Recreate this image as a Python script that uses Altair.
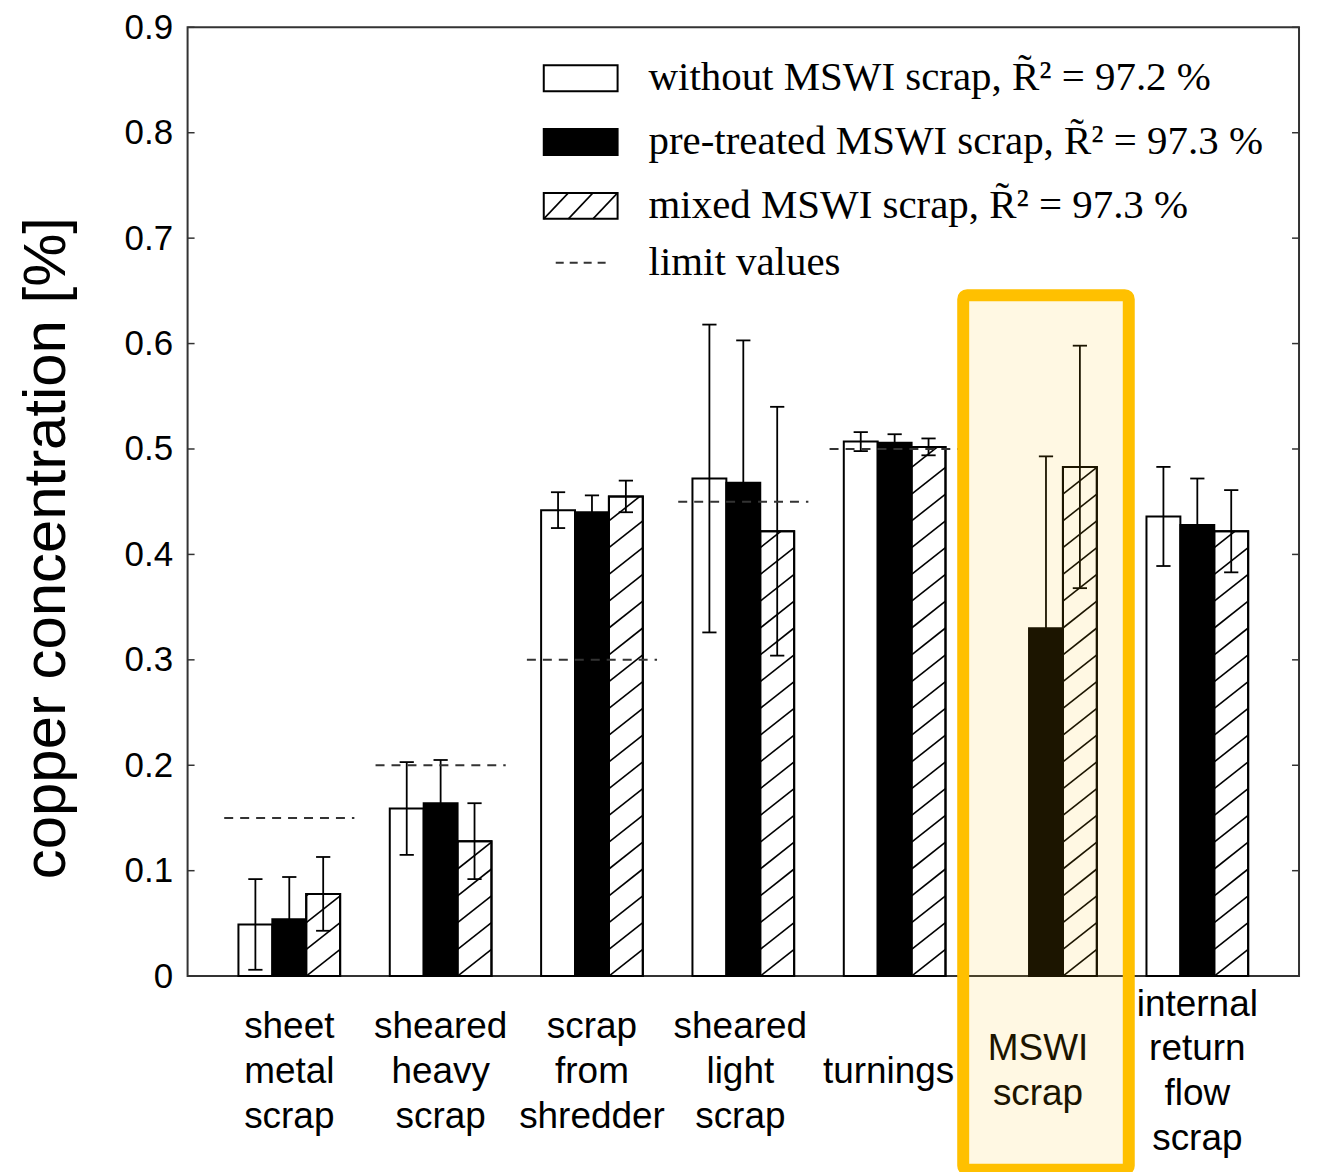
import altair as alt
import pandas as pd
import numpy as np

# ---------------- data ----------------
categories = ["sheet metal scrap", "sheared heavy scrap", "scrap from shredder",
              "sheared light scrap", "turnings", "MSWI scrap", "internal return flow scrap"]
category_lines = [["sheet", "metal", "scrap"], ["sheared", "heavy", "scrap"],
                  ["scrap", "from", "shredder"], ["sheared", "light", "scrap"],
                  ["turnings"], ["MSWI", "scrap"], ["internal", "return", "flow", "scrap"]]

without_mswi = [0.049, 0.159, 0.442, 0.472, 0.507, None, 0.436]
without_err = [0.043, 0.044, 0.017, 0.146, 0.009, None, 0.047]
pretreated = [0.054, 0.164, 0.440, 0.468, 0.506, 0.330, 0.428]
pretreated_err = [0.040, 0.041, 0.016, 0.135, 0.008, 0.163, 0.044]
mixed = [0.078, 0.128, 0.455, 0.422, 0.502, 0.483, 0.422]
mixed_err = [0.035, 0.036, 0.015, 0.118, 0.008, 0.115, 0.039]
limit_values = [0.15, 0.20, 0.30, 0.45, 0.50, None, None]

series_names = ["without MSWI scrap", "pre-treated MSWI scrap", "mixed MSWI scrap"]
legend_labels = ["without MSWI scrap, R\u0303\u00b2 = 97.2 %",
                 "pre-treated MSWI scrap, R\u0303\u00b2 = 97.3 %",
                 "mixed MSWI scrap, R\u0303\u00b2 = 97.3 %",
                 "limit values"]
y_ticks = [0, 0.1, 0.2, 0.3, 0.4, 0.5, 0.6, 0.7, 0.8, 0.9]
highlight_index = 5

# ---------------- geometry ----------------
TOP = 18
W, H = 1114, 969 - TOP
X_DOM = [-0.672, 6.672]
BAR_W = 0.224
CAP = 0.047
HATCH = 0.0254
LINE_H = 45
LABEL_MID = 1073 - 8 - TOP
xs = alt.Scale(domain=X_DOM, nice=False, zero=False)
ys = alt.Scale(domain=[0, 0.9], nice=False, zero=True)

bars, errs, hatch = [], [], []
for j, (vals, es) in enumerate([(without_mswi, without_err), (pretreated, pretreated_err), (mixed, mixed_err)]):
    for i, (v, e) in enumerate(zip(vals, es)):
        if v is None:
            continue
        xl = i + (j - 1.5) * BAR_W
        xr = xl + BAR_W
        xc = (xl + xr) / 2
        bars.append(dict(series=series_names[j], x0=xl, x1=xr, y0=0.0, y1=v))
        errs.append(dict(xc=xc, c0=xc - CAP, c1=xc + CAP, lo=v - e, hi=v + e))
        if j == 2:
            k = 0
            while k * HATCH < v:
                y0 = k * HATCH
                tmax = min(1.0, (v - y0) / HATCH)
                hatch.append(dict(hx0=xl, hx1=xl + tmax * BAR_W, hy0=y0, hy1=y0 + tmax * HATCH))
                k += 1

bars_df = pd.DataFrame(bars)
err_df = pd.DataFrame(errs)
hatch_df = pd.DataFrame(hatch)
lim_df = pd.DataFrame([dict(l0=i - 0.43, l1=i + 0.43, lim=v) for i, v in enumerate(limit_values) if v is not None])
tick_df = pd.DataFrame(dict(t=y_ticks))
hl_df = pd.DataFrame([dict(h0=highlight_index - 0.547, h1=highlight_index + 0.547)])

layers = []

# bars (carry the y axis)
layers.append(
    alt.Chart(bars_df).mark_rect(stroke="black", strokeWidth=2).encode(
        x=alt.X("x0:Q", scale=xs, axis=None),
        x2="x1:Q",
        y=alt.Y("y0:Q", scale=ys, axis=alt.Axis(
            values=y_ticks, format=".1~f", grid=False, ticks=False, domain=False,
            labelFont="Liberation Sans", labelFontSize=35, labelColor="black",
            labelPadding=15, labelFlush=False, labelOverlap=False,
            title="copper concentration [%]", titleFont="Liberation Sans",
            titleFontSize=60, titleFontWeight="normal", titleColor="black",
            titleX=-123, titleY=547.5 - 8 - TOP, titleBaseline="alphabetic", titleAngle=270)),
        y2="y1:Q",
        fill=alt.Fill("series:N", scale=alt.Scale(domain=series_names, range=["white", "black", "white"]), legend=None),
    )
)

# hatching
layers.append(
    alt.Chart(hatch_df).mark_rule(color="black", strokeWidth=1.6).encode(
        x=alt.X("hx0:Q", scale=xs, axis=None), x2="hx1:Q",
        y=alt.Y("hy0:Q", scale=ys, axis=None), y2="hy1:Q",
    )
)
layers.append(
    alt.Chart(bars_df).transform_filter(alt.datum.series == series_names[2]).mark_rect(
        fillOpacity=0, stroke="black", strokeWidth=2).encode(
        x=alt.X("x0:Q", scale=xs, axis=None), x2="x1:Q",
        y=alt.Y("y0:Q", scale=ys, axis=None), y2="y1:Q",
    )
)

# error bars
layers.append(
    alt.Chart(err_df).mark_rule(color="black", strokeWidth=1.8).encode(
        x=alt.X("xc:Q", scale=xs, axis=None),
        y=alt.Y("lo:Q", scale=ys, axis=None), y2="hi:Q",
    )
)
for fld in ["lo", "hi"]:
    layers.append(
        alt.Chart(err_df).mark_rule(color="black", strokeWidth=1.8).encode(
            x=alt.X("c0:Q", scale=xs, axis=None), x2="c1:Q",
            y=alt.Y(f"{fld}:Q", scale=ys, axis=None),
        )
    )

# limit values
layers.append(
    alt.Chart(lim_df).mark_rule(color="#333333", strokeWidth=2, strokeDash=[9, 7]).encode(
        x=alt.X("l0:Q", scale=xs, axis=None), x2="l1:Q",
        y=alt.Y("lim:Q", scale=ys, axis=None),
    )
)

# inward ticks, left and right
for a, b in [(0, 7), (W - 7, W)]:
    layers.append(
        alt.Chart(tick_df).mark_rule(color="#333333", strokeWidth=1.5).encode(
            x=alt.value(a), x2=alt.value(b),
            y=alt.Y("t:Q", scale=ys, axis=None),
        )
    )

# category labels (multi-line, vertically centred)
label_dx = [0, 0, 0, -3, -6, -8, 0]
for i, lines in enumerate(category_lines):
    n = len(lines)
    layers.append(
        alt.Chart(pd.DataFrame({"idx": [i], "lines": [lines]})).mark_text(
            font="Liberation Sans", fontSize=37, lineHeight=LINE_H, dx=label_dx[i],
            baseline="middle", align="center", color="black").encode(
            x=alt.X("idx:Q", scale=xs, axis=None),
            y=alt.value(LABEL_MID - (n - 1) * LINE_H / 2),
            text="lines:N",
        )
    )

# custom legend (page rows at y 77, 141, 205, 262)
LX0, LX1 = 357, 431
row_y = [77 - 8 - TOP, 141 - 8 - TOP, 205 - 8 - TOP, 262 - 8 - TOP]
fills = ["white", "black", "white"]
for r in range(3):
    layers.append(
        alt.Chart(pd.DataFrame({"k": [r]})).mark_rect(fill=fills[r], stroke="black", strokeWidth=2).encode(
            x=alt.value(LX0), x2=alt.value(LX1),
            y=alt.value(row_y[r] - 13), y2=alt.value(row_y[r] + 13),
        )
    )
for s in range(3):
    step = (LX1 - LX0) / 3
    layers.append(
        alt.Chart(pd.DataFrame({"k": [s]})).mark_rule(color="black", strokeWidth=1.6).encode(
            x=alt.value(LX0 + s * step), x2=alt.value(LX0 + (s + 1) * step),
            y=alt.value(row_y[2] + 13), y2=alt.value(row_y[2] - 13),
        )
    )
layers.append(
    alt.Chart(pd.DataFrame({"k": [0]})).mark_rule(color="#333333", strokeWidth=2, strokeDash=[8, 6]).encode(
        x=alt.value(369), x2=alt.value(421), y=alt.value(row_y[3]),
    )
)
for r, lab in enumerate(legend_labels):
    layers.append(
        alt.Chart(pd.DataFrame({"t": [lab]})).mark_text(
            font="Liberation Serif", fontSize=41, align="left", baseline="middle", color="black").encode(
            x=alt.value(462), y=alt.value(row_y[r]), text="t:N",
        )
    )

# highlight box (page y 294.5 to 1171)
layers.append(
    alt.Chart(hl_df).mark_rect(fill="#FFC000", fillOpacity=0.11, stroke="#FFC000",
                               strokeWidth=12, cornerRadius=4).encode(
        x=alt.X("h0:Q", scale=xs, axis=None), x2="h1:Q",
        y=alt.value(294.5 - 8 - TOP), y2=alt.value(1171 - 8 - TOP),
    )
)

chart = alt.layer(*layers).resolve_axis(y="independent", x="independent").properties(
    width=W, height=H,
    autosize=alt.AutoSizeParams(type="none"),
    padding={"left": 180, "top": TOP, "right": 10, "bottom": 195},
).configure_view(stroke="#333333", strokeWidth=2)

chart.save("out.html", embed_options={"renderer": "svg", "actions": False})
